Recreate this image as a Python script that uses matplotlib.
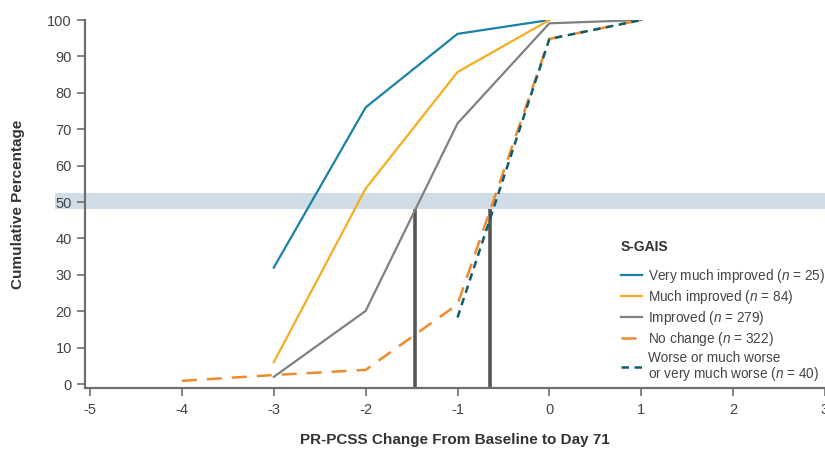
import matplotlib
matplotlib.use("Agg")
import matplotlib.pyplot as plt

plt.rcParams['font.family'] = ['Liberation Sans', 'DejaVu Sans']
plt.rcParams['mathtext.fontset'] = 'custom'
plt.rcParams['mathtext.rm'] = 'Liberation Sans'
plt.rcParams['mathtext.it'] = 'Liberation Sans:italic'
plt.rcParams['axes.unicode_minus'] = False

# Cumulative percentage by PR-PCSS change, one series per S-GAIS group
x_very_much = [-3, -2, -1, 0]
y_very_much = [32, 76, 96.2, 100]

x_much = [-3, -2, -1, 0]
y_much = [6, 53.7, 85.7, 100]

x_improved = [-3, -2, -1, 0, 1]
y_improved = [2, 20.1, 71.6, 99.1, 100]

x_no_change = [-4, -3, -2, -1, 0, 1]
y_no_change = [0.9, 2.5, 3.9, 21.9, 94.8, 100]

x_worse = [-1, 0, 1]
y_worse = [18.3, 94.8, 100]

# medians marked with vertical lines
medians = [-1.46, -0.645]
median_top = 48

band = (48, 52.5)

labels = ["Very much improved ($n$ = 25)",
          "Much improved ($n$ = 84)",
          "Improved ($n$ = 279)",
          "No change ($n$ = 322)",
          "Worse or much worse\nor very much worse ($n$ = 40)"]

fig = plt.figure(figsize=(8.25, 4.55), dpi=100)
ax = fig.add_axes([0.103, 0.147, 0.897, 0.809])

ax.axhspan(band[0], band[1], xmin=-0.04, xmax=1.0, color='#d0dde6',
           clip_on=False, zorder=0, lw=0)

for m in medians:
    ax.plot([m, m], [-1.1, median_top], color='#555555', lw=2.6, zorder=2,
            solid_capstyle='butt')

ax.plot(x_very_much, y_very_much, color='#1a82a4', lw=1.6, label=labels[0], zorder=3)
ax.plot(x_much, y_much, color='#f6ae1f', lw=1.6, label=labels[1], zorder=3)
ax.plot(x_improved, y_improved, color='#808080', lw=1.6, label=labels[2], zorder=3)
ax.plot(x_no_change, y_no_change, color='#f08a2e', lw=1.8, dashes=(6, 4),
        label=labels[3], zorder=4)
ax.plot(x_worse, y_worse, color='#0f5c6c', lw=1.8, dashes=(3, 2.2),
        label=labels[4], zorder=5)

ax.set_xlim(-5.055, 3.0)
ax.set_ylim(-1.1, 100)
ax.set_xticks(range(-5, 4))
ax.set_yticks(range(0, 101, 10))

for side in ['top', 'right']:
    ax.spines[side].set_visible(False)
for side in ['left', 'bottom']:
    ax.spines[side].set_color('#6e6e6e')
    ax.spines[side].set_linewidth(1.6)
ax.tick_params(colors='#6e6e6e', labelcolor='#444444', labelsize=10.5,
               length=6, width=1.2)
ax.tick_params(axis='x', pad=5)

ax.set_ylabel("Cumulative Percentage", fontsize=11, fontweight='bold',
              color='#333333', labelpad=16)
ax.set_xlabel("PR-PCSS Change From Baseline to Day 71", fontsize=11,
              fontweight='bold', color='#333333', labelpad=11)

leg = ax.legend(loc='lower left', bbox_to_anchor=(0.724, 0.015), frameon=False,
                title="S-GAIS", fontsize=9.8, handlelength=1.55,
                handletextpad=0.45, labelspacing=0.22, borderaxespad=0,
                borderpad=0)
leg.get_title().set_fontweight('bold')
leg.get_title().set_fontsize(10)
leg._legend_box.align = 'left'
leg._legend_box.sep = 9
for t in leg.get_texts():
    t.set_color('#444444')
    t.set_linespacing(1.0)
leg.get_title().set_color('#333333')

fig.savefig("out.png", dpi=100)
